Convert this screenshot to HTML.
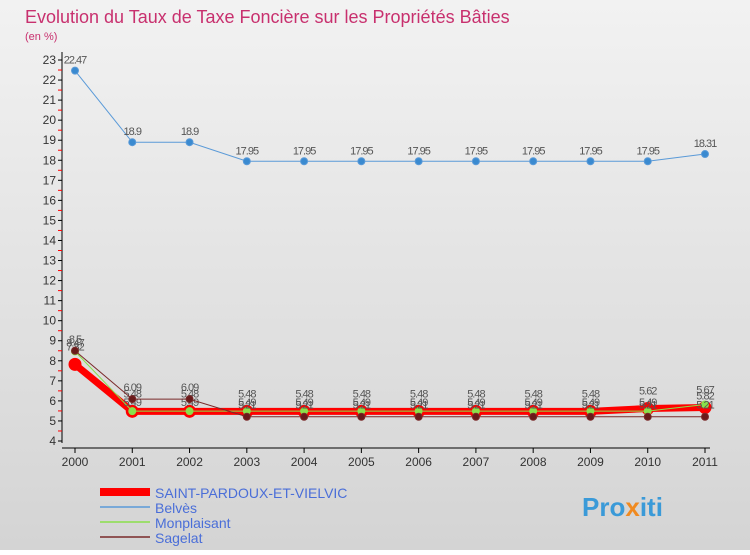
<!DOCTYPE html>
<html><head><meta charset="utf-8"><style>
body{margin:0;width:750px;height:550px;overflow:hidden;font-family:"Liberation Sans",sans-serif}
</style></head><body>
<svg width="750" height="550" xmlns="http://www.w3.org/2000/svg">
<defs><linearGradient id="bg" x1="0" y1="0" x2="0" y2="1"><stop offset="0" stop-color="#f2f2f2"/><stop offset="1" stop-color="#d4d4d4"/></linearGradient></defs>
<rect width="750" height="550" fill="url(#bg)"/>
<text x="25" y="23" font-size="18" fill="#c8306e">Evolution du Taux de Taxe Foncière sur les Propriétés Bâties</text>
<text x="25" y="40" font-size="11" fill="#c8306e">(en %)</text>
<g id="axes"></g><g id="series"></g>
<g font-size="14">
<line x1="100" y1="492" x2="150" y2="492" stroke="#f00" stroke-width="8"/>
<text x="155" y="498" fill="#4a6ed8">SAINT-PARDOUX-ET-VIELVIC</text>
<line x1="100" y1="507" x2="150" y2="507" stroke="#5a9ad8" stroke-width="1.5"/>
<text x="155" y="513" fill="#4a6ed8">Belvès</text>
<line x1="100" y1="522" x2="150" y2="522" stroke="#8ae04a" stroke-width="1.5"/>
<text x="155" y="528" fill="#4a6ed8">Monplaisant</text>
<line x1="100" y1="537" x2="150" y2="537" stroke="#7a2a2a" stroke-width="1.5"/>
<text x="155" y="543" fill="#4a6ed8">Sagelat</text>
</g>
<text x="582" y="516" font-size="26" font-weight="bold" fill="#3a9ad8">Pro<tspan fill="#f08a20">x</tspan>iti</text>
</svg>
<script>
const years=[2000,2001,2002,2003,2004,2005,2006,2007,2008,2009,2010,2011];
const belves=[22.47,18.9,18.9,17.95,17.95,17.95,17.95,17.95,17.95,17.95,17.95,18.31];
const stPardoux=[7.82,5.48,5.48,5.48,5.48,5.48,5.48,5.48,5.48,5.48,5.62,5.67];
const monplaisant=[8.47,5.49,5.49,5.49,5.49,5.49,5.49,5.49,5.49,5.49,5.49,5.82];
const sagelat=[8.5,6.09,6.09,5.21,5.21,5.21,5.21,5.21,5.21,5.21,5.21,5.21];
const yTicks=[4,5,6,7,8,9,10,11,12,13,14,15,16,17,18,19,20,21,22,23];
const NS="http://www.w3.org/2000/svg";
const X=i=>75+i*(630/(years.length-1));
const Y=v=>441-(v-4)*(381/19);
function mk(t,a,p){const e=document.createElementNS(NS,t);for(const k in a)e.setAttribute(k,a[k]);p.appendChild(e);return e;}
const ax=document.getElementById('axes');
const yl=mk('line',{x1:62,y1:52,x2:62,y2:443,stroke:'#000'},ax);


const xl=mk('line',{x1:62,y1:448,x2:710,y2:448,stroke:'#000'},ax);


yTicks.forEach(v=>{
 mk('line',{x1:58,y1:Y(v),x2:62,y2:Y(v),stroke:'#000'},ax);
 if(v<23)mk('line',{x1:58,y1:Y(v+0.5),x2:62,y2:Y(v+0.5),stroke:'#f00'},ax);
 const t=mk('text',{x:56,y:Y(v)+4,'font-size':12,'text-anchor':'end',fill:'#333'},ax);t.textContent=v;
 
 
});
years.forEach((y,i)=>{
 mk('line',{x1:X(i),y1:448,x2:X(i),y2:453,stroke:'#000'},ax);
 const t=mk('text',{x:X(i),y:466,'font-size':12,'text-anchor':'middle',fill:'#333'},ax);t.textContent=y;
 
 
});
const sg=document.getElementById('series');
function series(name,vals,color,w,r,fill,dy){
 const g=mk('g',{},sg);
 
 
 mk('polyline',{points:vals.map((v,i)=>X(i)+','+Y(v)).join(' '),fill:'none',stroke:color,'stroke-width':w},g);
 vals.forEach((v,i)=>{
  const c=mk('circle',{cx:X(i),cy:Y(v),r:r,fill:fill,stroke:color,'stroke-width':1},g);
  
  
  const t=mk('text',{x:X(i),y:Y(v)+dy,'font-size':11,'text-anchor':'middle',fill:'#555','letter-spacing':'-1'},g);
  t.textContent=v;
  
  
 });
}
series('belves',belves,'#5a9ad8',1,3.5,'#3a8ad0',-7);
series('saint-pardoux',stPardoux,'#f00',7,6,'#f00',-14);
series('monplaisant',monplaisant,'#8ae04a',1,3.5,'#8ae04a',-5);
series('sagelat',sagelat,'#7a2a2a',1,3.5,'#6a1a1a',-8);
</script>
</body></html>
